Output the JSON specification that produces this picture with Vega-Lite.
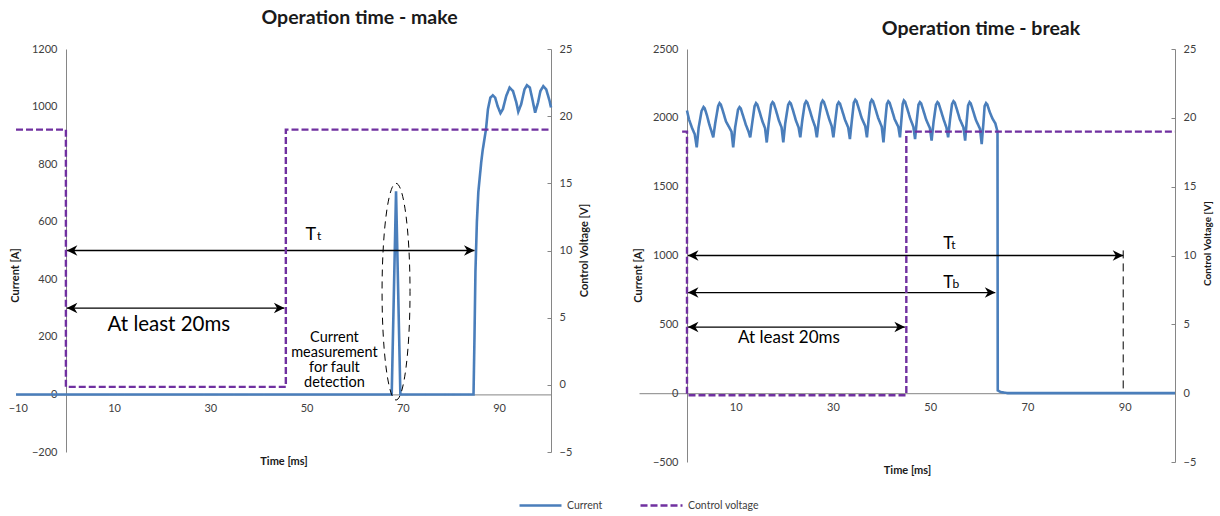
{
  "$schema": "https://vega.github.io/schema/vega-lite/v6.json",
  "padding": {"left": 8, "top": 7, "right": 5, "bottom": 5},
  "config": {
    "view": {"stroke": null},
    "font": "Lato",
    "axis": {"domainColor": "#868686", "domainWidth": 1, "labelColor": "#404040", "labelFont": "Lato", "labelFontSize": 11, "titleFont": "Lato", "titleFontSize": 11, "titleFontWeight": "bold", "titleColor": "#1a1a1a", "grid": false, "ticks": false, "labelPadding": 9, "tickColor": "#868686", "labelOverlap": false, "labelFlush": false},
    "title": {"font": "Lato", "fontSize": 19.5, "fontWeight": "bold", "color": "#1a1a1a", "anchor": "middle", "baseline": "middle"},
    "legend": {"orient": "none", "legendX": 502, "legendY": 434, "direction": "horizontal", "symbolType": "stroke", "symbolSize": 1764, "symbolStrokeWidth": 2.5, "labelFont": "Lato", "labelFontSize": 10.5, "labelColor": "#404040", "columnPadding": 32, "labelOffset": 4}
  },
  "datasets": {
    "makeCurrent": [
      {"t": -10.37, "I": 0}, {"t": 67.7, "I": 0}, {"t": 68.6, "I": 706}, {"t": 69.5, "I": 0}, {"t": 84.7, "I": 0},
      {"t": 84.9, "I": 198}, {"t": 85.1, "I": 428}, {"t": 85.4, "I": 600}, {"t": 85.7, "I": 703}, {"t": 86.1, "I": 772},
      {"t": 86.3, "I": 807}, {"t": 86.6, "I": 848}, {"t": 87.3, "I": 922}, {"t": 87.7, "I": 991}, {"t": 88.2, "I": 1031},
      {"t": 88.7, "I": 1039}, {"t": 89.2, "I": 1031}, {"t": 89.7, "I": 1002}, {"t": 90.3, "I": 977}, {"t": 90.8, "I": 991},
      {"t": 91.5, "I": 1037}, {"t": 92.2, "I": 1066}, {"t": 92.9, "I": 1054}, {"t": 93.6, "I": 1014}, {"t": 94.0, "I": 982},
      {"t": 94.6, "I": 1008}, {"t": 95.3, "I": 1060}, {"t": 95.8, "I": 1074}, {"t": 96.4, "I": 1066}, {"t": 97.0, "I": 1020},
      {"t": 97.5, "I": 979}, {"t": 98.1, "I": 1014}, {"t": 98.6, "I": 1054}, {"t": 99.2, "I": 1071}, {"t": 99.8, "I": 1060},
      {"t": 100.5, "I": 1020}, {"t": 100.8, "I": 997}
    ],
    "makeVoltage": [
      {"t": -10.37, "V": 19}, {"t": 0, "V": 19}, {"t": 0, "V": -0.15}, {"t": 45.7, "V": -0.15}, {"t": 45.7, "V": 19}, {"t": 100.8, "V": 19}
    ],
    "makeArrows": [{"t": 0.2, "t2": 84.9, "I": 500}, {"t": 0.2, "t2": 45.4, "I": 300}],
    "makeT": [{"t": 50.9, "ts": 52.6, "I": 536, "sub": "t"}],
    "makeText": [{"t": 21.4, "I": 241, "label": "At least 20ms"}],
    "makeNote": [{"t": 55.8, "I": 195, "label": "Current\nmeasurement\nfor fault\ndetection"}],
    "makeEllipse": [{"t": 68.6, "I": 357}],
    "breakCurrent": [
      {"t": 0.0, "I": 2053}, {"t": 0.4, "I": 1990}, {"t": 1.0, "I": 1930}, {"t": 1.6, "I": 1880}, {"t": 2.0, "I": 1785},
      {"t": 2.4, "I": 1930}, {"t": 3.0, "I": 2050}, {"t": 3.4, "I": 2078}, {"t": 3.65, "I": 2068}, {"t": 4.1, "I": 2018}, {"t": 4.6, "I": 1950}, {"t": 5.05, "I": 1900}, {"t": 5.4, "I": 1858},
      {"t": 5.8, "I": 1960}, {"t": 6.4, "I": 2085}, {"t": 6.7, "I": 2107}, {"t": 6.95, "I": 2097}, {"t": 7.4, "I": 2047}, {"t": 8.0, "I": 1975}, {"t": 8.7, "I": 1930}, {"t": 9.15, "I": 1900}, {"t": 9.5, "I": 1785},
      {"t": 9.9, "I": 1930}, {"t": 10.5, "I": 2060}, {"t": 10.8, "I": 2078}, {"t": 11.05, "I": 2068}, {"t": 11.5, "I": 2018}, {"t": 12.1, "I": 1950}, {"t": 12.65, "I": 1900}, {"t": 13.0, "I": 1858},
      {"t": 13.4, "I": 1960}, {"t": 13.9, "I": 2085}, {"t": 14.2, "I": 2107}, {"t": 14.45, "I": 2097}, {"t": 14.9, "I": 2047}, {"t": 15.5, "I": 1975}, {"t": 16.05, "I": 1925}, {"t": 16.4, "I": 1821},
      {"t": 16.8, "I": 1960}, {"t": 17.3, "I": 2095}, {"t": 17.6, "I": 2114}, {"t": 17.85, "I": 2104}, {"t": 18.3, "I": 2054}, {"t": 18.9, "I": 1980}, {"t": 19.45, "I": 1930}, {"t": 19.8, "I": 1821},
      {"t": 20.2, "I": 1960}, {"t": 20.8, "I": 2095}, {"t": 21.1, "I": 2114}, {"t": 21.35, "I": 2104}, {"t": 21.8, "I": 2054}, {"t": 22.4, "I": 1980}, {"t": 22.95, "I": 1930}, {"t": 23.3, "I": 1858},
      {"t": 23.7, "I": 1980}, {"t": 24.2, "I": 2100}, {"t": 24.5, "I": 2121}, {"t": 24.75, "I": 2111}, {"t": 25.2, "I": 2061}, {"t": 25.8, "I": 1990}, {"t": 26.35, "I": 1935}, {"t": 26.7, "I": 1858},
      {"t": 27.1, "I": 1980}, {"t": 27.6, "I": 2105}, {"t": 27.9, "I": 2126}, {"t": 28.15, "I": 2116}, {"t": 28.6, "I": 2066}, {"t": 29.2, "I": 1995}, {"t": 29.75, "I": 1940}, {"t": 30.1, "I": 1858},
      {"t": 30.5, "I": 1980}, {"t": 30.9, "I": 2095}, {"t": 31.2, "I": 2114}, {"t": 31.45, "I": 2104}, {"t": 31.9, "I": 2054}, {"t": 32.5, "I": 1985}, {"t": 33.15, "I": 1930}, {"t": 33.5, "I": 1846},
      {"t": 33.9, "I": 1980}, {"t": 34.3, "I": 2110}, {"t": 34.6, "I": 2131}, {"t": 34.85, "I": 2121}, {"t": 35.3, "I": 2071}, {"t": 35.9, "I": 2000}, {"t": 36.65, "I": 1940}, {"t": 37.0, "I": 1858},
      {"t": 37.35, "I": 1990}, {"t": 37.7, "I": 2110}, {"t": 38.0, "I": 2131}, {"t": 38.25, "I": 2121}, {"t": 38.7, "I": 2071}, {"t": 39.3, "I": 2000}, {"t": 40.05, "I": 1935}, {"t": 40.4, "I": 1821},
      {"t": 40.75, "I": 1970}, {"t": 41.1, "I": 2100}, {"t": 41.4, "I": 2121}, {"t": 41.65, "I": 2111}, {"t": 42.1, "I": 2061}, {"t": 42.7, "I": 1990}, {"t": 43.45, "I": 1935}, {"t": 43.8, "I": 1858},
      {"t": 44.1, "I": 1990}, {"t": 44.35, "I": 2100}, {"t": 44.6, "I": 2126}, {"t": 44.85, "I": 2116}, {"t": 45.3, "I": 2066}, {"t": 45.9, "I": 1995}, {"t": 46.55, "I": 1935}, {"t": 46.9, "I": 1846},
      {"t": 47.25, "I": 1980}, {"t": 47.6, "I": 2095}, {"t": 47.9, "I": 2114}, {"t": 48.15, "I": 2104}, {"t": 48.6, "I": 2054}, {"t": 49.2, "I": 1985}, {"t": 49.95, "I": 1925}, {"t": 50.3, "I": 1834},
      {"t": 50.7, "I": 1970}, {"t": 51.2, "I": 2095}, {"t": 51.5, "I": 2114}, {"t": 51.75, "I": 2104}, {"t": 52.2, "I": 2054}, {"t": 52.8, "I": 1985}, {"t": 53.35, "I": 1930}, {"t": 53.7, "I": 1858},
      {"t": 54.1, "I": 1990}, {"t": 54.5, "I": 2100}, {"t": 54.8, "I": 2121}, {"t": 55.05, "I": 2111}, {"t": 55.5, "I": 2061}, {"t": 56.1, "I": 1990}, {"t": 56.85, "I": 1930}, {"t": 57.2, "I": 1834},
      {"t": 57.5, "I": 1970}, {"t": 57.8, "I": 2090}, {"t": 58.1, "I": 2114}, {"t": 58.35, "I": 2104}, {"t": 58.8, "I": 2054}, {"t": 59.4, "I": 1985}, {"t": 60.25, "I": 1920}, {"t": 60.6, "I": 1809},
      {"t": 60.95, "I": 1960}, {"t": 61.2, "I": 2085}, {"t": 61.5, "I": 2107}, {"t": 61.75, "I": 2097}, {"t": 62.2, "I": 2047}, {"t": 62.8, "I": 1995}, {"t": 63.4, "I": 1960}, {"t": 63.85, "I": 1900},
      {"t": 63.9, "I": 20}, {"t": 64.5, "I": 8}, {"t": 66.0, "I": 0}, {"t": 100.35, "I": 0}
    ],
    "breakVoltage": [
      {"t": -1.0, "V": 19}, {"t": 0, "V": 19}, {"t": 0, "V": -0.15}, {"t": 45.1, "V": -0.15}, {"t": 45.1, "V": 19}, {"t": 100.35, "V": 19}
    ],
    "breakArrows": [{"t": 0.2, "t2": 89.7, "I": 1000}, {"t": 0.2, "t2": 63.4, "I": 731}, {"t": 0.2, "t2": 44.8, "I": 480}],
    "breakT": [{"t": 53.7, "ts": 54.8, "I": 1044, "sub": "t"}, {"t": 53.7, "ts": 55.3, "I": 766, "sub": "b"}],
    "breakText": [{"t": 20.97, "I": 401, "label": "At least 20ms"}],
    "breakDash": [{"t": 89.7, "I": 1037, "I2": 15}]
  },
  "spacing": 43,
  "hconcat": [
    {
      "width": 535,
      "height": 403,
      "title": {"text": "Operation time - make", "dx": 76, "offset": 15},
      "encoding": {
        "x": {"field": "t", "type": "quantitative", "scale": {"domain": [-10.37, 100.8], "nice": false, "zero": false},
          "axis": {"orient": "bottom", "offset": -57.6, "values": [-10, 10, 30, 50, 70, 90], "labelPadding": 8, "title": "Time [ms]", "titleY": 66.6, "titleBaseline": "middle"}}
      },
      "layer": [
        {
          "encoding": {
            "y": {"field": "I", "type": "quantitative", "scale": {"domain": [-200, 1200], "nice": false, "zero": false},
              "axis": {"orient": "left", "offset": -50, "values": [-200, 0, 200, 400, 600, 800, 1000, 1200], "format": "d", "title": "Current [A]", "titleX": -51, "titleY": 226, "titleAngle": 270, "titleAlign": "center", "titleBaseline": "middle"}}
          },
          "layer": [
            {"data": {"name": "makeCurrent"}, "mark": {"type": "line", "strokeWidth": 2.6},
              "encoding": {"order": {"value": null},
                "color": {"datum": "Current", "type": "nominal", "scale": {"domain": ["Current", "Control voltage"], "range": ["#4a7ebb", "#7030a0"]}, "legend": {"title": null}},
                "strokeDash": {"datum": "Current", "type": "nominal", "scale": {"domain": ["Current", "Control voltage"], "range": [[1, 0], [7, 3]]}, "legend": {"title": null}}}},
            {"data": {"name": "makeArrows"}, "mark": {"type": "rule", "color": "black", "strokeWidth": 1.3}, "encoding": {"x2": {"field": "t2"}}},
            {"data": {"name": "makeArrows"}, "mark": {"type": "point", "shape": "M0,0L1.5,-0.75L1.05,0L1.5,0.75Z", "filled": true, "color": "black", "opacity": 1, "size": 196, "strokeWidth": 0}},
            {"data": {"name": "makeArrows"}, "mark": {"type": "point", "shape": "M0,0L-1.5,-0.75L-1.05,0L-1.5,0.75Z", "filled": true, "color": "black", "opacity": 1, "size": 196, "strokeWidth": 0},
              "encoding": {"x": {"field": "t2", "type": "quantitative"}}},
            {"data": {"name": "makeEllipse"}, "mark": {"type": "point", "shape": "M0,-1C0.0712,-1,0.129,-0.5523,0.129,0C0.129,0.5523,0.0712,1,0,1C-0.0712,1,-0.129,0.5523,-0.129,0C-0.129,-0.5523,-0.0712,-1,0,-1Z", "filled": false, "stroke": "black", "strokeWidth": 1, "strokeDash": [7, 5], "opacity": 1, "size": 46959}},
            {"data": {"name": "makeT"}, "mark": {"type": "text", "text": "T", "font": "Lato", "fontSize": 18, "align": "center", "baseline": "alphabetic", "color": "black"}},
            {"data": {"name": "makeT"}, "mark": {"type": "text", "font": "Lato", "fontSize": 12, "align": "center", "baseline": "alphabetic", "color": "black"},
              "encoding": {"x": {"field": "ts", "type": "quantitative"}, "text": {"field": "sub"}}},
            {"data": {"name": "makeText"}, "mark": {"type": "text", "font": "Lato", "fontSize": 20.5, "align": "center", "baseline": "middle", "color": "black"}, "encoding": {"text": {"field": "label"}}},
            {"data": {"name": "makeNote"}, "mark": {"type": "text", "font": "Lato", "fontSize": 14.5, "lineHeight": 15, "lineBreak": "\n", "align": "center", "baseline": "middle", "color": "black"}, "encoding": {"text": {"field": "label"}}}
          ]
        },
        {"data": {"name": "makeVoltage"}, "mark": {"type": "line", "strokeWidth": 2.4},
          "encoding": {
            "order": {"value": null},
            "y": {"field": "V", "type": "quantitative", "scale": {"domain": [-5, 25], "nice": false, "zero": false},
              "axis": {"orient": "right", "values": [-5, 0, 5, 10, 15, 20, 25], "ticks": true, "tickSize": -4, "labelPadding": 12, "title": "Control Voltage [V]", "titleAngle": 270, "titleX": 33, "titleY": 201, "titleAlign": "center", "titleBaseline": "middle"}},
            "color": {"datum": "Control voltage", "type": "nominal", "scale": {"domain": ["Current", "Control voltage"], "range": ["#4a7ebb", "#7030a0"]}, "legend": {"title": null}},
            "strokeDash": {"datum": "Control voltage", "type": "nominal", "scale": {"domain": ["Current", "Control voltage"], "range": [[1, 0], [7, 3]]}, "legend": {"title": null}}}}
      ],
      "resolve": {"scale": {"y": "independent"}}
    },
    {
      "width": 536,
      "height": 413,
      "title": {"text": "Operation time - break", "dx": 74, "offset": 4},
      "encoding": {
        "x": {"field": "t", "type": "quantitative", "scale": {"domain": [-9.87, 100.35], "nice": false, "zero": false},
          "axis": {"orient": "bottom", "offset": -68.8, "values": [-10, 10, 30, 50, 70, 90], "labelPadding": 8, "title": "Time [ms]", "titleY": 76.8, "titleBaseline": "middle"}}
      },
      "layer": [
        {
          "encoding": {
            "y": {"field": "I", "type": "quantitative", "scale": {"domain": [-500, 2500], "nice": false, "zero": false},
              "axis": {"orient": "left", "offset": -48, "values": [-500, 0, 500, 1000, 1500, 2000, 2500], "format": "d", "title": "Current [A]", "titleX": -49, "titleY": 226, "titleAngle": 270, "titleAlign": "center", "titleBaseline": "middle"}}
          },
          "layer": [
            {"data": {"name": "breakCurrent"}, "mark": {"type": "line", "strokeWidth": 2.6},
              "encoding": {"order": {"value": null},
                "color": {"datum": "Current", "type": "nominal", "scale": {"domain": ["Current", "Control voltage"], "range": ["#4a7ebb", "#7030a0"]}, "legend": {"title": null}},
                "strokeDash": {"datum": "Current", "type": "nominal", "scale": {"domain": ["Current", "Control voltage"], "range": [[1, 0], [7, 3]]}, "legend": {"title": null}}}},
            {"data": {"name": "breakDash"}, "mark": {"type": "rule", "color": "black", "strokeWidth": 1, "strokeDash": [8, 5]}, "encoding": {"y2": {"field": "I2"}}},
            {"data": {"name": "breakArrows"}, "mark": {"type": "rule", "color": "black", "strokeWidth": 1.3}, "encoding": {"x2": {"field": "t2"}}},
            {"data": {"name": "breakArrows"}, "mark": {"type": "point", "shape": "M0,0L1.5,-0.75L1.05,0L1.5,0.75Z", "filled": true, "color": "black", "opacity": 1, "size": 196, "strokeWidth": 0}},
            {"data": {"name": "breakArrows"}, "mark": {"type": "point", "shape": "M0,0L-1.5,-0.75L-1.05,0L-1.5,0.75Z", "filled": true, "color": "black", "opacity": 1, "size": 196, "strokeWidth": 0},
              "encoding": {"x": {"field": "t2", "type": "quantitative"}}},
            {"data": {"name": "breakT"}, "mark": {"type": "text", "text": "T", "font": "Lato", "fontSize": 17, "align": "center", "baseline": "alphabetic", "color": "black"}},
            {"data": {"name": "breakT"}, "mark": {"type": "text", "font": "Lato", "fontSize": 12, "align": "center", "baseline": "alphabetic", "color": "black"},
              "encoding": {"x": {"field": "ts", "type": "quantitative"}, "text": {"field": "sub"}}},
            {"data": {"name": "breakText"}, "mark": {"type": "text", "font": "Lato", "fontSize": 17, "align": "center", "baseline": "middle", "color": "black"}, "encoding": {"text": {"field": "label"}}}
          ]
        },
        {"data": {"name": "breakVoltage"}, "mark": {"type": "line", "strokeWidth": 2.4},
          "encoding": {
            "order": {"value": null},
            "y": {"field": "V", "type": "quantitative", "scale": {"domain": [-5, 25], "nice": false, "zero": false},
              "axis": {"orient": "right", "values": [-5, 0, 5, 10, 15, 20, 25], "ticks": true, "tickSize": -4, "labelPadding": 12, "title": "Control Voltage [V]", "titleFontSize": 10, "titleAngle": 270, "titleX": 32, "titleY": 194, "titleAlign": "center", "titleBaseline": "middle"}},
            "color": {"datum": "Control voltage", "type": "nominal", "scale": {"domain": ["Current", "Control voltage"], "range": ["#4a7ebb", "#7030a0"]}, "legend": {"title": null}},
            "strokeDash": {"datum": "Control voltage", "type": "nominal", "scale": {"domain": ["Current", "Control voltage"], "range": [[1, 0], [7, 3]]}, "legend": {"title": null}}}}
      ],
      "resolve": {"scale": {"y": "independent"}}
    }
  ]
}
